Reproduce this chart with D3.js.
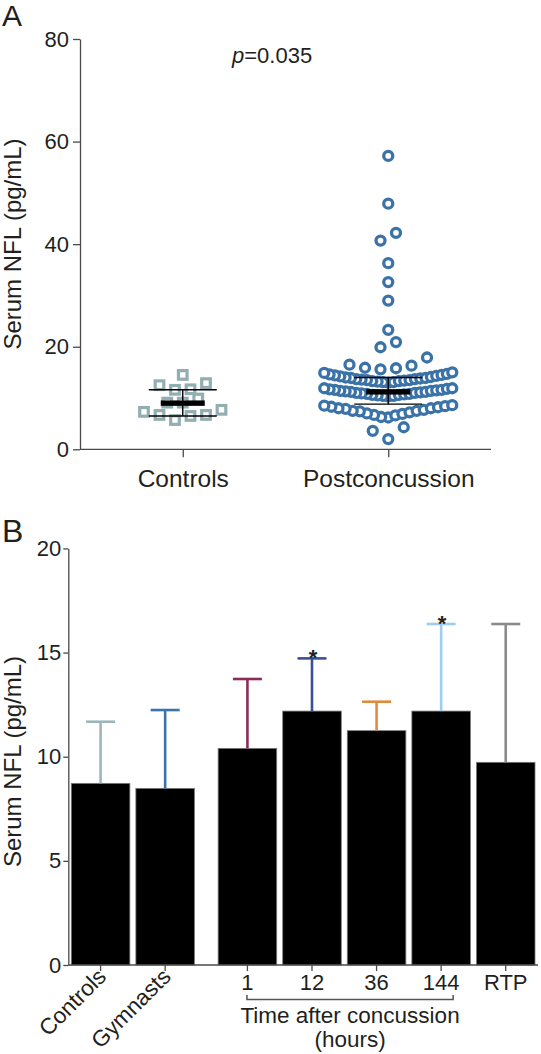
<!DOCTYPE html>
<html>
<head>
<meta charset="utf-8">
<script src="https://cdn.jsdelivr.net/npm/d3@7"></script>
<style>
  html, body { margin: 0; padding: 0; background: #fff; }
  svg { display: block; }
  text { font-family: "Liberation Sans", Arial, Helvetica, sans-serif; fill: #231f20; }
</style>
</head>
<body>
<svg id="chart" width="541" height="1054"></svg>
<script>
// ---------------- DATA ----------------
// Panel A
const groupsA = ["Controls", "Postconcussion"];
const controlsValues = [5.7, 6.5, 6.7, 6.7, 7.3, 7.7, 9.1, 9.1, 9.9, 11.6, 11.7, 12.5, 12.9, 14.5];
const postconcussionValues = [
  2.0, 3.6, 4.3,
  6.2, 6.3, 6.6, 6.7, 6.9, 7.0, 7.2, 7.4, 7.5, 7.5, 7.7, 7.9, 8.0, 8.0, 8.2, 8.3, 8.4, 8.5, 8.6,
  10.3, 10.4, 10.4, 10.5, 10.6, 10.6, 10.7, 10.8, 10.8, 10.9, 11.0, 11.0, 11.1, 11.2, 11.2, 11.3,
  11.4, 11.4, 11.5, 11.6, 11.6, 11.7, 11.8, 11.9, 11.9,
  13.0, 13.1, 13.1, 13.2, 13.3, 13.3, 13.4, 13.5, 13.5, 13.6, 13.7, 13.7, 13.8, 13.9, 13.9, 14.0,
  14.1, 14.2, 14.3, 14.4, 14.5, 14.6, 14.7, 14.9, 15.0,
  15.6, 15.8, 15.9, 16.3, 16.5, 17.9,
  19.9, 20.9, 23.3, 29.0, 32.6, 36.3, 40.7, 42.2, 47.9, 57.2
];
const summaryCenterA = [9.0, 11.2];
const summaryUpperA = [11.6, 14.0];
const summaryLowerA = [6.5, 8.8];
const yTicksA = [0, 20, 40, 60, 80];
const pLabel = ["p", "=0.035"];
const yLabel = "Serum NFL (pg/mL)";

// Panel B
const categoriesB = ["Controls", "Gymnasts", "1", "12", "36", "144", "RTP"];
const meansB = [8.72, 8.48, 10.40, 12.19, 11.25, 12.19, 9.73];
const errorTopB = [11.68, 12.24, 13.73, 14.72, 12.64, 16.37, 16.37];
const significantB = [false, false, false, true, false, true, false];
const timeCategories = ["1", "12", "36", "144"];
const yTicksB = [0, 5, 10, 15, 20];
const bracketLabel = ["Time after concussion", "(hours)"];

// ---------------- STYLES ----------------
const errorColorsB = ["#9db6ba", "#3b74a9", "#8a2d58", "#3a5096", "#e08b3a", "#9dcdf0", "#8b8b8b"];
const squareColor = "#93aeb2";
const circleColor = "#3b73a8";
const axisColor = "#4a4a4a";

const svg = d3.select("#chart");
svg.append("rect").attr("width", 541).attr("height", 1054).attr("fill", "#fff");

// ---------------- PANEL A ----------------
const yA = d3.scaleLinear().domain([0, 80]).range([449.3, 39]);
const xA = d3.scalePoint().domain(groupsA).range([80, 491]).padding(0.5);

const gA = svg.append("g");

function styleAxis(g) {
  g.selectAll("path.domain").attr("stroke", axisColor).attr("stroke-width", 1.3);
  g.selectAll(".tick line").attr("stroke", axisColor).attr("stroke-width", 1.3);
  g.selectAll(".tick text").attr("fill", "#231f20")
    .style("font-family", '"Liberation Sans", Arial, sans-serif');
}

const yAxisA = gA.append("g").attr("transform", "translate(80,0)")
  .call(d3.axisLeft(yA).tickValues(yTicksA).tickSize(7).tickSizeOuter(0).tickPadding(4));
yAxisA.selectAll(".tick text").style("font-size", "22px");
styleAxis(yAxisA);

const xAxisA = gA.append("g").attr("transform", "translate(0,449.3)")
  .call(d3.axisBottom(xA).tickSize(8).tickSizeOuter(0).tickPadding(6));
xAxisA.select("path.domain").attr("d", "M80,0H491");
xAxisA.selectAll(".tick text").style("font-size", "24.5px").attr("dy", "0.95em");
styleAxis(xAxisA);

// Prism-like row layout: bin values into rows; within a row, ascending values fill
// slots from the center outwards (left first).
function rowLayout(values, binW, maxSpacing, maxWidth) {
  const sorted = values.slice().sort((a, b) => a - b);
  const rows = [];
  let cur = null;
  sorted.forEach(v => {
    if (!cur || v > cur.start + binW + 1e-9) { cur = { start: v, vals: [] }; rows.push(cur); }
    cur.vals.push(v);
  });
  const out = [];
  rows.forEach(r => {
    const n = r.vals.length;
    const sp = n > 1 ? Math.min(maxSpacing, maxWidth / (n - 1)) : 0;
    const slots = d3.range(n).map(k => k - (n - 1) / 2)
      .sort((a, b) => (Math.abs(a) - Math.abs(b)) || (a - b));
    r.vals.forEach((v, i) => out.push({ v, dx: slots[i] * sp }));
  });
  return out;
}

const ctrlPts = rowLayout(controlsValues, 2.4, 15.5, 128);
const postPts = rowLayout(postconcussionValues, 2.4, 15.5, 128);

gA.append("g").selectAll("rect").data(ctrlPts).join("rect")
  .attr("x", d => xA("Controls") + d.dx - 4.3)
  .attr("y", d => yA(d.v) - 4.3)
  .attr("width", 8.6).attr("height", 8.6)
  .attr("fill", "#fff").attr("stroke", squareColor).attr("stroke-width", 3.2);

gA.append("g").selectAll("circle").data(postPts).join("circle")
  .attr("cx", d => xA("Postconcussion") + d.dx)
  .attr("cy", d => yA(d.v))
  .attr("r", 4.5)
  .attr("fill", "#fff").attr("stroke", circleColor).attr("stroke-width", 3.3);

// Summary (median + whiskers)
groupsA.forEach((g, i) => {
  const cx = xA(g);
  const s = gA.append("g").attr("stroke", "#000");
  s.append("line").attr("x1", cx).attr("x2", cx)
    .attr("y1", yA(summaryUpperA[i])).attr("y2", yA(summaryLowerA[i])).attr("stroke-width", 1.4);
  [summaryUpperA[i], summaryLowerA[i]].forEach(v => {
    s.append("line").attr("x1", cx - 34).attr("x2", cx + 34)
      .attr("y1", yA(v)).attr("y2", yA(v)).attr("stroke-width", 1.4);
  });
  s.append("rect").attr("x", cx - 22).attr("width", 44)
    .attr("y", yA(summaryCenterA[i]) - 2.7).attr("height", 5.4)
    .attr("fill", "#000").attr("stroke", "none");
});

// p value
const pt = gA.append("text").attr("x", 232).attr("y", 63.3).style("font-size", "22px");
pt.append("tspan").style("font-style", "italic").text(pLabel[0]);
pt.append("tspan").text(pLabel[1]);

// y label A
gA.append("text").attr("transform", "translate(21,244) rotate(-90)")
  .attr("text-anchor", "middle").style("font-size", "24px").text(yLabel);

// Panel letter A
svg.append("text").attr("x", 2).attr("y", 26).style("font-size", "30px").text("A");

// ---------------- PANEL B ----------------
const gapUnits = 0.274;
const posB = categoriesB.map((c, i) => i + (i >= 2 ? gapUnits : 0));
const xB = d3.scaleLinear().domain([-0.5, 6.5 + gapUnits]).range([68.3, 538]);
const yB = d3.scaleLinear().domain([0, 20]).range([965, 548.4]);
const bwUnits = 0.907;
const barW = xB(bwUnits) - xB(0);

const gB = svg.append("g");

const barData = categoriesB.map((c, i) => ({
  c, i, mean: meansB[i], top: errorTopB[i], color: errorColorsB[i], sig: significantB[i], cx: xB(posB[i])
}));

// bars
gB.append("g").selectAll("rect").data(barData).join("rect")
  .attr("x", d => d.cx - barW / 2)
  .attr("width", barW)
  .attr("y", d => yB(d.mean))
  .attr("height", d => yB(0) - yB(d.mean))
  .attr("fill", "#000").attr("stroke", "#7a7a7a").attr("stroke-width", 0.8);

// error bars
const eb = gB.append("g").selectAll("g").data(barData).join("g")
  .attr("stroke", d => d.color).attr("stroke-width", 2.6);
eb.append("line").attr("x1", d => d.cx).attr("x2", d => d.cx)
  .attr("y1", d => yB(d.mean)).attr("y2", d => yB(d.top));
eb.append("line").attr("x1", d => d.cx - 14.5).attr("x2", d => d.cx + 14.5)
  .attr("y1", d => yB(d.top)).attr("y2", d => yB(d.top));

// significance stars
gB.append("g").selectAll("text").data(barData.filter(d => d.sig)).join("text")
  .attr("x", d => d.cx + 1).attr("y", d => yB(d.top) + 7)
  .attr("text-anchor", "middle").style("font-size", "22px").style("font-weight", "bold")
  .text("*");

// y axis B
const yAxisB = gB.append("g").attr("transform", "translate(68.3,0)")
  .call(d3.axisLeft(yB).tickValues(yTicksB).tickSize(5).tickSizeOuter(0).tickPadding(2));
yAxisB.selectAll(".tick text").style("font-size", "22px");
styleAxis(yAxisB);

// x axis B (domain line + ticks)
const xAxisB = gB.append("g").attr("transform", "translate(0,965)");
xAxisB.append("line").attr("x1", 68.3).attr("x2", 538).attr("y1", 0).attr("y2", 0)
  .attr("stroke", axisColor).attr("stroke-width", 1.3);
xAxisB.selectAll("line.tk").data(barData).join("line").attr("class", "tk")
  .attr("x1", d => d.cx).attr("x2", d => d.cx).attr("y1", 0).attr("y2", 6)
  .attr("stroke", axisColor).attr("stroke-width", 1.3);

// category labels
const rotated = barData.filter(d => timeCategories.indexOf(d.c) < 0 && d.c !== "RTP");
const straight = barData.filter(d => rotated.indexOf(d) < 0);
xAxisB.selectAll("text.rot").data(rotated).join("text").attr("class", "rot")
  .attr("transform", d => `translate(${d.cx + 7},${13}) rotate(-45)`)
  .attr("text-anchor", "end").style("font-size", "22.5px").text(d => d.c);
xAxisB.selectAll("text.str").data(straight).join("text").attr("class", "str")
  .attr("x", d => d.cx).attr("y", 25).attr("text-anchor", "middle")
  .style("font-size", "22px").text(d => d.c);

// bracket for time after concussion
const bx1 = xB(posB[categoriesB.indexOf(timeCategories[0])]) - 0.5;
const bx2 = xB(posB[categoriesB.indexOf(timeCategories[timeCategories.length - 1])]) + 12;
gB.append("path")
  .attr("d", `M${bx1},995V999.5H${bx2}V995`)
  .attr("fill", "none").attr("stroke", "#555").attr("stroke-width", 1.5);
const bmid = (bx1 + bx2) / 2;
gB.append("text").attr("x", bmid).attr("y", 1023.3).attr("text-anchor", "middle")
  .style("font-size", "22.5px").text(bracketLabel[0]);
gB.append("text").attr("x", bmid).attr("y", 1046.5).attr("text-anchor", "middle")
  .style("font-size", "22.5px").text(bracketLabel[1]);

// y label B
gB.append("text").attr("transform", "translate(21,761.5) rotate(-90)")
  .attr("text-anchor", "middle").style("font-size", "24px").text(yLabel);

// Panel letter B
svg.append("text").attr("x", 2).attr("y", 541.5).style("font-size", "32px").text("B");
</script>
</body>
</html>
